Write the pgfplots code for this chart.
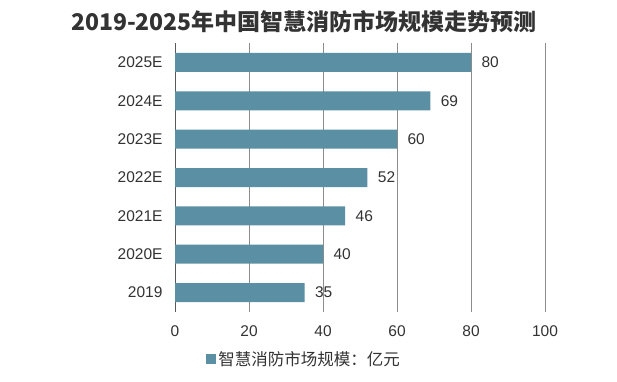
\documentclass[border=0pt]{standalone}
\usepackage{pgfplots}
\pgfplotsset{compat=1.18}
\usepackage{fontspec}
\setmainfont{Liberation Sans}
\newfontfamily\cjk{Noto Sans CJK SC}
\definecolor{barcol}{RGB}{91,143,163}
\definecolor{txt}{RGB}{51,51,51}
\begin{document}
\begin{tikzpicture}[x=1pt,y=1pt]
\path[use as bounding box] (0,0) rectangle (617,381);
\node[font=\cjk\bfseries\fontsize{23}{26}\selectfont, text=txt] at (304,359) {2019-2025年中国智慧消防市场规模走势预测};
\begin{axis}[
  at={(175pt,69.3pt)}, anchor=south west,
  scale only axis, width=370pt, height=268.4pt,
  xbar, bar width=19pt,
  xmin=0, xmax=100, ymin=-0.5, ymax=6.5,
  xtick={0,20,40,60,80,100},
  ytick={0,1,2,3,4,5,6},
  yticklabels={2019,2020E,2021E,2022E,2023E,2024E,2025E},
  axis lines*=left,
  x axis line style={draw=none},
  y axis line style={draw=black!65, line width=0.9pt, -},
  xmajorgrids, major grid style={draw=black!45, line width=0.8pt},
  major tick length=0pt,
  /pgf/number format/assume math mode=true,
  tick label style={font=\fontsize{15.5}{17}\selectfont, text=txt},
  xticklabel style={yshift=-10pt},
  yticklabel style={xshift=-9pt},
  nodes near coords,
  nodes near coords align={horizontal},
  every node near coord/.append style={font=\fontsize{15.5}{17}\selectfont, text=txt, xshift=7pt},
  legend style={at={(0.084,-0.176)}, anchor=west, draw=none, fill=none,
    font=\cjk\fontsize{16.5}{19}\selectfont, text=txt, inner sep=0pt,
    /tikz/every even column/.append style={column sep=0pt}},
  legend image code/.code={\fill[barcol] (0pt,-5pt) rectangle (10pt,5pt);},
]
\addplot[fill=barcol, draw=none] coordinates {(35,0) (40,1) (46,2) (52,3) (60,4) (69,5) (80,6)};
\addlegendentry{智慧消防市场规模：亿元}
\end{axis}
\end{tikzpicture}
\end{document}
